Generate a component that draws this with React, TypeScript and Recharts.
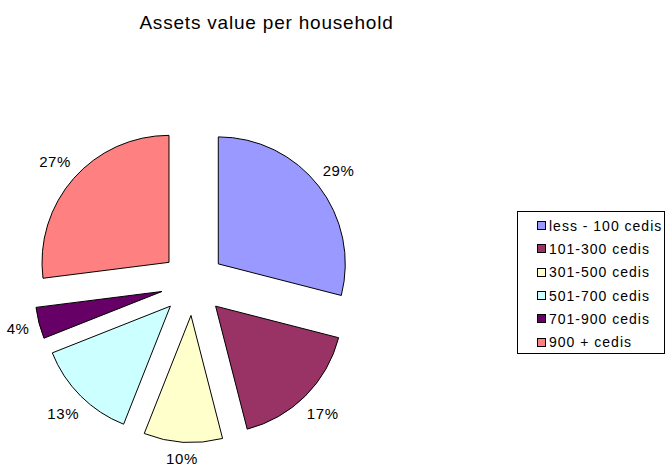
import { Cell, Legend, Pie, PieChart } from 'recharts';

const title = 'Assets value per household';
const categories = ['less - 100 cedis', '101-300 cedis', '301-500 cedis', '501-700 cedis', '701-900 cedis', '900 + cedis'];
const shares = [29, 17, 10, 13, 4, 27];
const colors = ['#9999FF', '#993366', '#FFFFCC', '#CCFFFF', '#660066', '#FF8080'];

const FONT = 'Arial, "Liberation Sans", sans-serif';
const CX = 193;
const CY = 283.5;
const RADIUS = 127;
const EXPLODE = 32;
const RAD = Math.PI / 180;

const total = shares.reduce((a, b) => a + b, 0);
let acc = 0;
const slices = shares.map((value, i) => {
  const startAngle = 90 - (acc / total) * 360;
  acc += value;
  const endAngle = 90 - (acc / total) * 360;
  const mid = ((startAngle + endAngle) / 2) * RAD;
  return {
    name: categories[i],
    value,
    color: colors[i],
    startAngle,
    endAngle,
    cx: CX + EXPLODE * Math.cos(mid),
    cy: CY - EXPLODE * Math.sin(mid),
  };
});

// excel-ish placement: label box sits just outside the arc
function renderLabel(props: any) {
  const { cx, cy, midAngle, outerRadius, value } = props;
  const text = `${value}%`;
  const w = (text.length - 1) * 8.34 + 13.3 + text.length * 0.6;
  const c = Math.cos(-midAngle * RAD);
  const s = Math.sin(-midAngle * RAD);
  const dist = outerRadius + 9 + (w / 2) * Math.abs(c) + 6 * Math.abs(s);
  return (
    <text
      x={cx + dist * c}
      y={cy + dist * s}
      textAnchor="middle"
      dominantBaseline="central"
      fontFamily={FONT}
      fontSize={15}
      letterSpacing={0.6}
      fill="#000"
    >
      {text}
    </text>
  );
}

function LegendBox() {
  return (
    <div
      style={{
        boxSizing: 'border-box',
        width: 148,
        height: 143,
        border: '1px solid #000',
        paddingTop: 2,
        background: '#fff',
        fontFamily: FONT,
        fontSize: 14,
        letterSpacing: 1,
        color: '#000',
      }}
    >
      {categories.map((c, i) => (
        <div key={c} style={{ height: 23.3, display: 'flex', alignItems: 'center', whiteSpace: 'nowrap' }}>
          <span
            style={{
              display: 'inline-block',
              boxSizing: 'border-box',
              width: 9,
              height: 9,
              marginLeft: 19,
              marginRight: 3,
              background: colors[i],
              border: '1px solid #000',
            }}
          />
          <span>{c}</span>
        </div>
      ))}
    </div>
  );
}

export default function App() {
  return (
    <div style={{ position: 'absolute', left: 0, top: 0, width: 670, height: 465, background: '#fff' }}>
      <PieChart width={670} height={465} margin={{ top: 0, right: 0, bottom: 0, left: 0 }}>
        <text x={266.5} y={29} textAnchor="middle" fontFamily={FONT} fontSize={19} letterSpacing={0.8} fill="#000">
          {title}
        </text>
        {slices.map((sl) => (
          <Pie
            key={sl.name}
            data={[{ name: sl.name, value: sl.value }]}
            dataKey="value"
            nameKey="name"
            cx={sl.cx}
            cy={sl.cy}
            startAngle={sl.startAngle}
            endAngle={sl.endAngle}
            innerRadius={0}
            outerRadius={RADIUS}
            stroke="#000"
            strokeWidth={1}
            labelLine={false}
            label={renderLabel}
            isAnimationActive={false}
          >
            <Cell fill={sl.color} />
          </Pie>
        ))}
        <Legend
          layout="vertical"
          align="right"
          verticalAlign="top"
          content={() => <LegendBox />}
          wrapperStyle={{ position: 'absolute', left: 517, top: 211, width: 148, height: 143 }}
        />
      </PieChart>
    </div>
  );
}
